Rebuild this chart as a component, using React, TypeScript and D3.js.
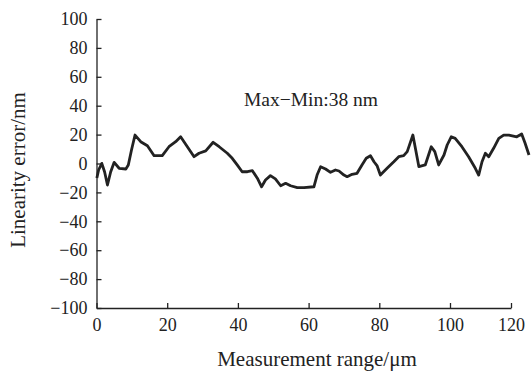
import React, { useRef, useEffect } from "react";
import * as d3 from "d3";

const width = 531;
const height = 373;

// measurement position (µm)
const positions = [
  0.1, 0.6, 1.5, 2.3, 3.1, 4.0, 5.0, 6.4, 8.3, 9.0, 9.9, 10.9, 12.5, 14.4, 16.3, 18.6,
  20.5, 22.4, 23.8, 25.7, 27.6, 29.0, 30.9, 33.0, 34.7, 37.0, 38.4, 39.8, 41.2, 42.7,
  44.1, 45.5, 46.7, 47.8, 49.2, 50.6, 52.1, 53.5, 54.9, 56.8, 58.7, 61.5, 62.4, 63.4,
  64.8, 66.2, 67.6, 68.6, 70.0, 70.9, 72.3, 73.7, 75.1, 76.3, 77.5, 78.5, 79.4, 80.3,
  82.2, 84.1, 85.5, 86.9, 87.9, 89.5, 91.2, 93.0, 94.7, 95.7, 96.8, 98.3, 99.2, 100.4,
  101.7, 103.9, 106.1, 108.3, 109.4, 110.5, 111.6, 112.7, 114.3, 116.0, 117.6, 119.3,
  121.9, 123.5, 124.6, 125.9,
];

// linearity error (nm)
const errors = [
  -10, -4.5, 0.1, -5.9, -14.9, -5.9, 0.8, -3.3, -3.8, -1.0, 9.3, 19.7, 15.1, 12.3, 5.4, 5.4,
  11.6, 15.1, 18.5, 11.6, 4.7, 7.1, 8.7, 14.7, 11.6, 7.1, 3.6, -1.0, -5.7, -5.7,
  -5.0, -10.2, -16.1, -11.4, -8.4, -10.7, -15.4, -13.7, -15.4, -16.7, -16.7, -16.1, -8.0, -2.2,
  -3.8, -6.1, -4.5, -5.2, -8.0, -9.1, -7.5, -6.8, -1.0, 3.6, 5.4, 1.2, -1.7, -8.0,
  -3.3, 1.2, 4.7, 5.4, 8.2, 19.7, -2.2, -1.0, 11.6, 8.2, -1.0, 5.9, 12.8, 18.5,
  17.4, 11.6, 4.7, -3.3, -8.0, 1.2, 7.1, 4.7, 10.5, 17.4, 19.7, 19.7,
  18.5, 20.4, 14.2, 5.9,
];

const xTicks = [0, 20, 40, 60, 80, 100, 120];
const yTicks = [-100, -80, -60, -40, -20, 0, 20, 40, 60, 80, 100];

const font = "'Liberation Serif', 'Times New Roman', serif";

export default function App() {
  const svgRef = useRef<SVGSVGElement>(null);

  // the printed axis is squeezed past 100, so the scale follows it
  const x = d3.scaleLinear().domain([0, 100, 120]).range([96.5, 450, 511]);
  const y = d3.scaleLinear().domain([-100, 100]).range([308, 19]);

  const data = positions.map((p, i) => ({ p, e: errors[i] }));

  useEffect(() => {
    const svg = d3.select(svgRef.current);

    svg
      .select<SVGGElement>(".x-axis")
      .attr("transform", `translate(0, ${y(-100)})`)
      .call(d3.axisBottom(x).tickValues(xTicks).tickSize(-5).tickSizeOuter(0).tickPadding(10))
      .call(g => {
        g.attr("font-family", font).attr("font-size", 18);
        g.selectAll("text").attr("fill", "#222");
        g.selectAll("line, path").attr("stroke", "#222").attr("stroke-width", 1.3);
      });

    svg
      .select<SVGGElement>(".y-axis")
      .attr("transform", `translate(${x(0)}, 0)`)
      .call(d3.axisLeft(y).tickValues(yTicks).tickSize(-5).tickSizeOuter(0).tickPadding(9))
      .call(g => {
        g.attr("font-family", font).attr("font-size", 18);
        g.selectAll("text").attr("fill", "#222");
        g.selectAll("line, path").attr("stroke", "#222").attr("stroke-width", 1.3);
      });
  }, []);

  const line = d3
    .line<{ p: number; e: number }>()
    .x(d => x(d.p))
    .y(d => y(d.e));

  return (
    <svg
      ref={svgRef}
      width={width}
      height={height}
      style={{ position: "absolute", left: 0, top: 0, background: "#fff" }}
    >
      <path d={line(data) ?? ""} fill="none" stroke="#222" strokeWidth={2.8} strokeLinejoin="round" />

      <g className="x-axis" />
      <g className="y-axis" />

      <text x={244} y={106} fontFamily={font} fontSize={19.5} fill="#222">
        Max−Min:38 nm
      </text>

      <text x={317} y={366} textAnchor="middle" fontFamily={font} fontSize={21} fill="#222">
        Measurement range/μm
      </text>

      <text
        transform="rotate(-90)"
        x={-170}
        y={25}
        textAnchor="middle"
        fontFamily={font}
        fontSize={21}
        fill="#222"
      >
        Linearity error/nm
      </text>
    </svg>
  );
}
